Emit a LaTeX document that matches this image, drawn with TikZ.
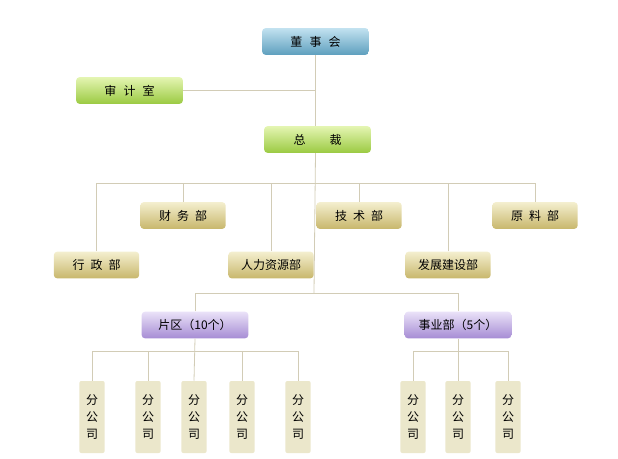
\documentclass[tikz,border=0pt]{standalone}
\usepackage{fontspec}
\newfontfamily\cjk{Noto Sans CJK SC}
\usetikzlibrary{positioning}

\definecolor{linkcol}{HTML}{D2CCB6}
\definecolor{bluetop}{HTML}{C2E2F0}
\definecolor{bluebot}{HTML}{5E9FBE}
\definecolor{greentop}{HTML}{E4F5B2}
\definecolor{greenbot}{HTML}{9BCA42}
\definecolor{goldtop}{HTML}{F4EFCF}
\definecolor{goldbot}{HTML}{C8B76C}
\definecolor{purpletop}{HTML}{EAE2F8}
\definecolor{purplebot}{HTML}{A68CD4}
\definecolor{subfill}{HTML}{EBE7CB}

\begin{document}
\begin{tikzpicture}
    [x=0.75pt, y=-0.75pt,
    font=\cjk\fontsize{9}{13}\selectfont,
    box/.style={rounded corners=2.5pt, minimum height=20pt, inner sep=0pt},
    board/.style={box, minimum width=80pt, top color=bluetop, bottom color=bluebot},
    lead/.style={box, minimum width=80pt, top color=greentop, bottom color=greenbot},
    dept/.style={box, minimum width=64pt, top color=goldtop, bottom color=goldbot},
    area/.style={box, minimum width=80pt, top color=purpletop, bottom color=purplebot},
    branch/.style={rounded corners=1.5pt, fill=subfill, minimum width=19pt,
        minimum height=54pt, inner sep=0pt, align=center},
    link/.style={draw=linkcol, line width=0.6pt}]
        \useasboundingbox (0,0) rectangle (618,458);

        %% top levels
        \node[board] (dsh) at (315.5,41.5) {董\hspace{0.6em}事\hspace{0.6em}会};
        \node[lead] (sjs) at (129.5,90.5) {审\hspace{0.6em}计\hspace{0.6em}室};
        \node[lead] (zc) at (317.5,139.5) {总\hspace{2em}裁};

        %% departments
        \node[dept] (xzb) at (96.5,265) {行\hspace{0.5em}政\hspace{0.5em}部};
        \node[dept] (cwb) at (183,215.5) {财\hspace{0.5em}务\hspace{0.5em}部};
        \node[dept] (rlb) at (271,265) {人力资源部};
        \node[dept] (jsb) at (359,215.5) {技\hspace{0.5em}术\hspace{0.5em}部};
        \node[dept] (fzb) at (448,265) {发展建设部};
        \node[dept] (ylb) at (535,215.5) {原\hspace{0.5em}料\hspace{0.5em}部};

        %% areas
        \node[area] (pq) at (195,325) {片区（10个）};
        \node[area] (syb) at (458,325) {事业部（5个）};

        \foreach \x [count=\i] in {92,148,194,242,298,413,458,508}
            \node[branch] (f\i) at (\x,417) {分\\公\\司};

        \coordinate (b1) at (314,183);
        \coordinate (b2) at (314,293);
        \coordinate (s1) at (194,351);
        \coordinate (s2) at (458,351);

        \draw[link] (dsh.south) -- (dsh.south |- zc.north);
        \draw[link] (sjs.east) -- (sjs.east -| dsh.south);
        \draw[link] (zc.south -| dsh.south) -- (b2);
        \foreach \d in {xzb,cwb,rlb,jsb,fzb,ylb}
            \draw[link] (\d.north) |- (b1);
        \draw[link] (pq.north) |- (b2);
        \draw[link] (syb.north) |- (b2);
        \draw[link] (pq.south) -- (f3.north);
        \foreach \i in {1,2,4,5}
            \draw[link] (f\i.north) |- (s1);
        \draw[link] (syb.south) -- (f7.north);
        \foreach \i in {6,8}
            \draw[link] (f\i.north) |- (s2);
    \end{tikzpicture}
\end{document}
